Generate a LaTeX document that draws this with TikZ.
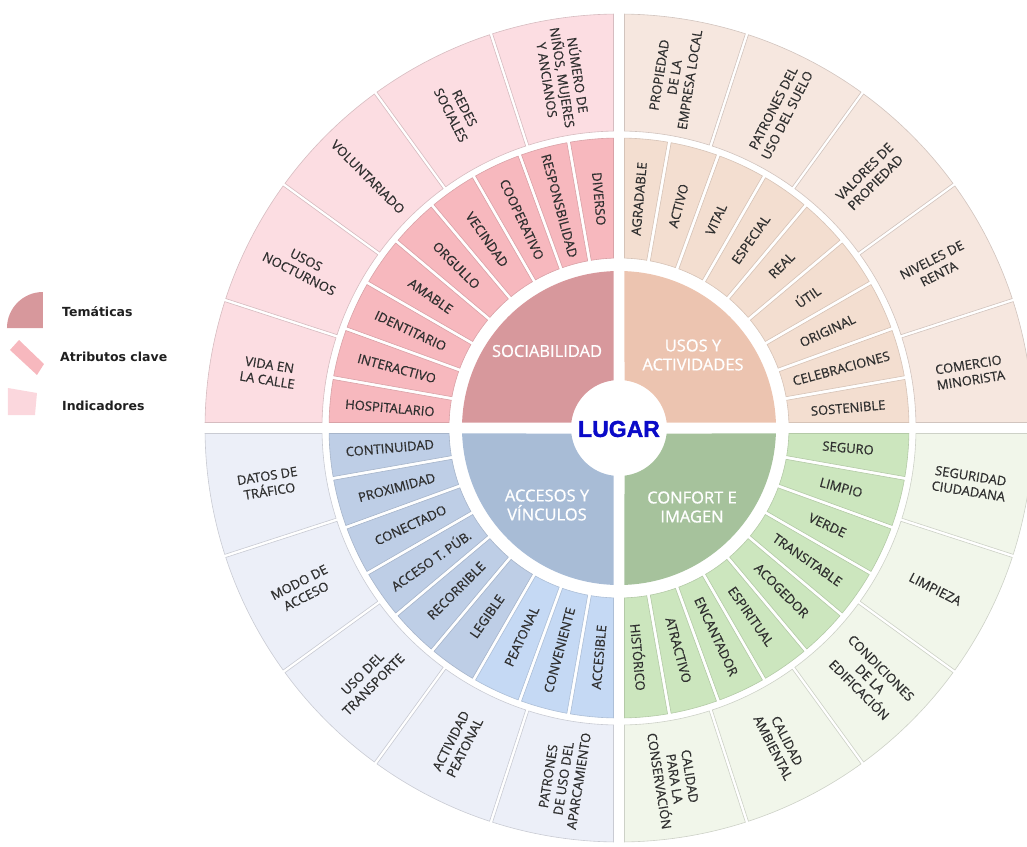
\documentclass[tikz,border=0pt]{standalone}
\usepackage{fontspec}
\setmainfont{Open Sans}
\newfontfamily\cellfont{Open Sans}[FakeBold=0.7]
\newfontfamily\themefont{Open Sans}[FakeBold=0.9]
\newfontfamily\legfont{DejaVu Sans}
\newfontfamily\lugfont{Liberation Sans}[FakeBold=1.5]
\definecolor{socT}{RGB}{215,152,156}
\definecolor{socA}{RGB}{247,184,190}
\definecolor{socI}{RGB}{252,221,226}
\definecolor{usoT}{RGB}{236,196,176}
\definecolor{usoA}{RGB}{243,222,208}
\definecolor{usoI}{RGB}{246,231,223}
\definecolor{accT}{RGB}{168,188,214}
\definecolor{accA}{RGB}{190,206,230}
\definecolor{accL}{RGB}{197,217,244}
\definecolor{accI}{RGB}{236,239,248}
\definecolor{conT}{RGB}{166,194,156}
\definecolor{conA}{RGB}{204,230,190}
\definecolor{conI}{RGB}{241,246,234}
\definecolor{txtc}{RGB}{48,48,48}
\definecolor{lugc}{RGB}{10,10,200}
\newcommand\sect[7]{%
 \pgfmathsetmacro\sIa{#1+asin(#5/#3)}%
 \pgfmathsetmacro\sIb{#2-asin(#6/#3)}%
 \pgfmathsetmacro\sOa{#1+asin(#5/#4)}%
 \pgfmathsetmacro\sOb{#2-asin(#6/#4)}%
 \path[#7] (\sIa:#3pt) arc[start angle=\sIa,end angle=\sIb,radius=#3pt] -- (\sOb:#4pt) arc[start angle=\sOb,end angle=\sOa,radius=#4pt] -- cycle;}
% #1 base angle, #2 theme fill, #3 indicator fill, #4 attr list colour/text, #5 indicator list, #6 rotation offset, #7 prefix
\newcommand\quadrant[7]{%
 \sect{#1}{#1+90}{48}{157}{5.5}{5.5}{fill=#2}
 \foreach [count=\n from 0] \cc/\txt in {#4} {
   \pgfmathsetmacro\aA{#1+10*\n}
   \pgfmathsetmacro\aB{\aA+10}
   \pgfmathsetmacro\gA{\n==0 ? 5.5 : 1.8}
   \pgfmathsetmacro\gB{\n==8 ? 5.5 : 1.8}
   \sect{\aA}{\aB}{170}{290}{\gA}{\gB}{fill=\cc, draw=\cc!88!black, line width=0.6pt}
   \pgfmathsetmacro\aM{\aA+5}
   \pgfmathsetmacro\rotA{\aM+#6}
   \node[attr, rotate=\rotA] (a#7\n) at (\aM:230pt) {\txt};
 }
 \foreach [count=\n from 0] \txt in {#5} {
   \pgfmathsetmacro\aA{#1+18*\n}
   \pgfmathsetmacro\aB{\aA+18}
   \pgfmathsetmacro\gA{\n==0 ? 5.5 : 1.6}
   \pgfmathsetmacro\gB{\n==4 ? 5.5 : 1.6}
   \sect{\aA}{\aB}{297}{414}{\gA}{\gB}{fill=#3, draw=#3!85!black, line width=0.6pt}
   \pgfmathsetmacro\aM{\aA+9}
   \pgfmathsetmacro\rotA{\aM+#6}
   \node[ind, rotate=\rotA] (i#7\n) at (\aM:355pt) {\txt};
 }
}
\tikzset{
 attr/.style={font=\cellfont\fontsize{13}{15}\selectfont, text=txtc, inner sep=0pt},
 ind/.style={font=\cellfont\fontsize{13}{15.5}\selectfont, text=txtc, align=center, inner sep=0pt},
 theme/.style={font=\themefont\fontsize{16.5}{19}\selectfont, text=white, align=center, inner sep=0pt},
 leg/.style={font=\legfont\bfseries\fontsize{12.5}{14}\selectfont, text=black!88, anchor=west, inner sep=0pt}
}
\begin{document}
\begin{tikzpicture}
\useasboundingbox (-619pt,-418pt) rectangle (408pt,428pt);
% Sociabilidad (upper left)
\quadrant{90}{socT}{socI}{socA/DIVERSO, socA/RESPONSBILIDAD, socA/COOPERATIVO, socA/VECINDAD, socA/ORGULLO, socA/AMABLE, socA/IDENTITARIO, socA/INTERACTIVO, socA/HOSPITALARIO}{{NÚMERO DE\\NIÑOS, MUJERES\\Y ANCIANOS}, {REDES\\SOCIALES}, VOLUNTARIADO, {USOS\\NOCTURNOS}, {VIDA EN\\LA CALLE}}{-180}{S}
% Usos y actividades (upper right)
\quadrant{0}{usoT}{usoI}{usoA/SOSTENIBLE, usoA/CELEBRACIONES, usoA/ORIGINAL, usoA/ÚTIL, usoA/REAL, usoA/ESPECIAL, usoA/VITAL, usoA/ACTIVO, usoA/AGRADABLE}{{COMERCIO\\MINORISTA}, {NIVELES DE\\RENTA}, {VALORES DE\\PROPIEDAD}, {PATRONES DEL\\USO DEL SUELO}, {PROPIEDAD\\DE LA\\EMPRESA LOCAL}}{0}{U}
% Accesos y vinculos (lower left)
\quadrant{180}{accT}{accI}{accA/CONTINUIDAD, accA/PROXIMIDAD, accA/CONECTADO, accA/ACCESO T. PÚB., accA/RECORRIBLE, accA/LEGIBLE, accL/PEATONAL, accL/CONVENIENTE, accL/ACCESIBLE}{{DATOS DE\\TRÁFICO}, {MODO DE\\ACCESO}, {USO DEL\\TRANSPORTE}, {ACTIVIDAD\\PEATONAL}, {PATRONES\\DE USO DEL\\APARCAMIENTO}}{-180}{A}
% Confort e imagen (lower right)
\quadrant{-90}{conT}{conI}{conA/HISTÓRICO, conA/ATRACTIVO, conA/ENCANTADOR, conA/ESPIRITUAL, conA/ACOGEDOR, conA/TRANSITABLE, conA/VERDE, conA/LIMPIO, conA/SEGURO}{{CALIDAD\\PARA LA\\CONSERVACIÓN}, {CALIDAD\\AMBIENTAL}, {CONDICIONES\\DE LA\\EDIFICACIÓN}, LIMPIEZA, {SEGURIDAD\\CIUDADANA}}{0}{C}
% theme labels
\node[theme] (tS) at (-72pt,77pt) {SOCIABILIDAD};
\node[theme] (tU) at (74pt,73pt) {USOS Y\\ACTIVIDADES};
\node[theme] (tA) at (-72pt,-77pt) {ACCESOS Y\\VÍNCULOS};
\node[theme] (tC) at (73pt,-79pt) {CONFORT E\\IMAGEN};
\node[font=\lugfont\bfseries\fontsize{23}{25}\selectfont, text=lugc, inner sep=0pt] (lugar) at (0pt,-1pt) {LUGAR};
% legend
\fill[socT] (-576pt,100pt) -- (-612pt,100pt) arc[start angle=180,end angle=90,radius=36pt] -- cycle;
\fill[socA] (-609pt,78pt) -- (-600pt,88pt) -- (-575pt,64pt) -- (-582pt,53pt) -- cycle;
\fill[socI!85!socA] (-611pt,40pt) -- (-582pt,35pt) -- (-584pt,13pt) -- (-611pt,13pt) -- cycle;
\node[leg] (lt) at (-557pt,116pt) {Temáticas};
\node[leg] (la) at (-559pt,71pt) {Atributos clave};
\node[leg] (li) at (-557pt,22pt) {Indicadores};
\end{tikzpicture}
\end{document}
